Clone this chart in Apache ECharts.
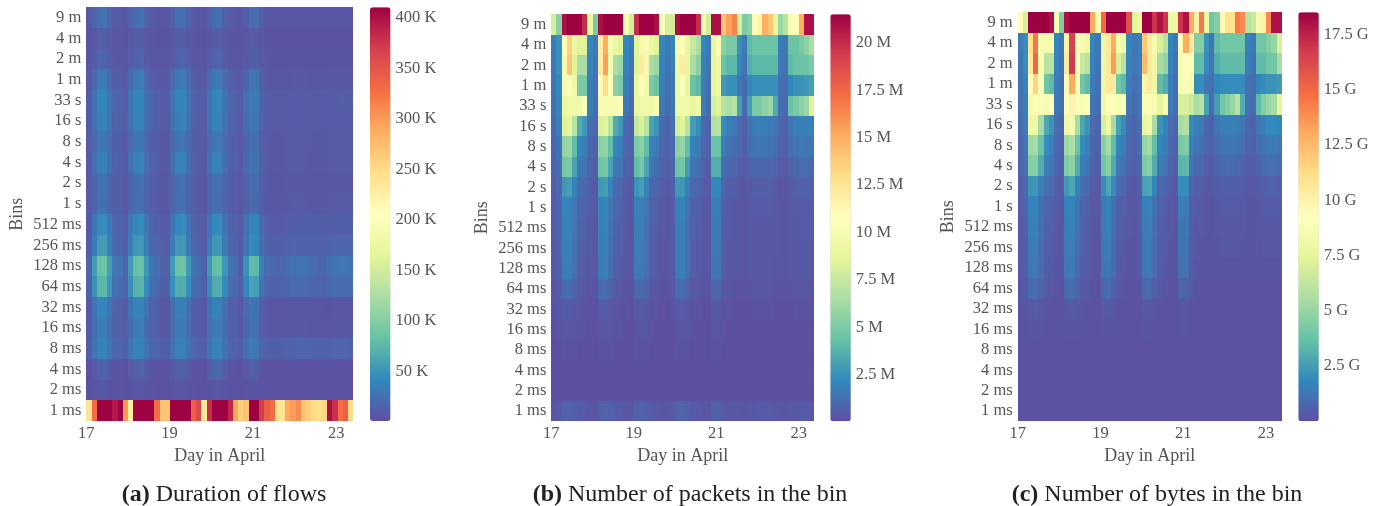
<!DOCTYPE html>
<html><head><meta charset="utf-8">
<style>html,body{margin:0;padding:0;background:#fff}#c{width:1380px;height:506px;filter:blur(0.6px)}</style>
<script src="https://cdn.jsdelivr.net/npm/echarts@6/dist/echarts.min.js"></script>
</head><body><div id="c"></div>
<script>
const binLabels = ['9 m','4 m','2 m','1 m','33 s','16 s','8 s','4 s','2 s','1 s','512 ms','256 ms','128 ms','64 ms','32 ms','16 ms','8 ms','4 ms','2 ms','1 ms'];
const dayTicks = [17,19,21,23];
const durationTicks = [50,100,150,200,250,300,350,400];
const packetTicks = [2.5,5,7.5,10,12.5,15,17.5,20];
const byteTicks = [2.5,5,7.5,10,12.5,15,17.5];
const palette = ['#5e4fa2','#3288bd','#66c2a5','#abdda4','#e6f598','#ffffbf','#fee08b','#fdae61','#f46d43','#d53e4f','#9e0142'];

// Duration of flows, thousands; one row per bin, one value per eighth of a day
const durationRows = [
[7,16,25,27,17,9,9,7,15,24,26,15,9,8,6,7,14,24,25,15,9,8,6,14,25,26,15,9,8,6,13,22,23,12,7,7,6,6,6,6,6,6,6,6,6,6,6,6,7,7,7],
[5,8,11,12,8,6,6,5,8,11,11,8,6,5,5,5,8,11,11,8,6,5,5,8,10,11,8,6,5,4,7,9,9,6,5,4,4,4,4,4,4,4,4,4,4,4,4,4,4,4,4],
[6,11,16,17,11,8,7,6,11,15,16,10,7,7,6,6,10,15,16,11,7,7,6,10,15,16,10,7,6,6,9,13,13,8,6,5,5,5,5,5,5,5,5,5,5,5,5,5,5,5,5],
[8,20,31,32,21,12,11,8,20,31,32,20,11,10,8,8,20,31,32,21,11,10,8,20,31,32,21,11,10,8,18,27,27,14,8,7,7,7,7,8,8,8,7,7,7,7,8,8,8,8,8],
[10,27,39,41,28,17,15,10,27,40,41,26,16,14,10,10,27,40,41,27,15,14,10,27,41,42,28,16,14,10,24,33,32,18,10,9,9,9,10,10,10,10,9,9,9,9,10,10,11,11,11],
[10,26,36,38,26,16,14,9,26,37,38,25,15,13,9,9,26,36,38,26,14,13,9,26,38,39,27,15,13,9,22,30,29,16,10,9,9,9,9,10,10,10,9,9,9,9,10,10,10,10,10],
[9,20,29,30,21,13,12,8,20,29,30,20,12,11,8,8,20,28,29,20,12,11,8,20,29,31,21,12,11,8,18,25,24,13,9,8,8,8,9,9,9,9,9,8,8,8,9,9,9,9,9],
[9,24,36,38,25,15,13,9,25,36,37,24,14,12,8,8,24,37,38,25,14,12,8,25,37,38,25,14,12,8,20,28,27,14,9,8,8,8,9,9,9,9,8,8,8,8,9,9,9,9,9],
[8,17,25,26,18,12,11,7,17,25,26,17,11,10,7,7,17,25,26,17,11,10,7,17,25,26,17,11,10,7,15,21,21,12,8,7,7,7,8,8,8,8,8,7,7,7,8,8,8,8,8],
[8,16,24,25,17,12,11,7,16,24,25,16,11,10,7,7,16,24,25,16,11,10,7,16,24,25,16,11,10,7,14,20,20,12,8,8,8,8,8,9,9,9,8,8,8,8,9,9,9,9,9],
[10,30,44,46,31,17,15,10,30,43,45,29,16,14,10,9,28,42,44,28,15,14,9,28,42,44,28,15,14,9,26,40,40,20,12,10,10,10,11,12,12,12,12,12,12,11,12,12,13,13,13],
[11,34,54,56,36,19,17,11,34,52,54,34,18,16,11,10,33,52,54,33,17,15,10,33,52,54,33,17,15,10,30,44,42,22,14,12,13,13,14,15,15,15,15,14,14,14,15,16,17,17,16],
[16,56,84,86,58,30,27,15,54,82,84,52,28,25,14,14,54,86,88,54,27,24,14,54,80,82,52,27,24,13,50,78,76,36,22,19,18,19,22,26,27,27,26,21,18,19,26,28,29,29,27],
[15,50,74,76,51,26,23,14,48,72,74,46,25,22,13,13,46,68,70,46,23,21,12,44,66,68,44,23,20,12,42,60,58,30,17,15,15,16,18,21,21,21,20,17,16,16,20,22,22,22,21],
[8,28,40,41,28,15,14,8,28,40,41,28,14,13,7,7,24,36,36,24,13,12,7,26,38,38,25,13,11,7,20,28,26,13,8,7,6,6,7,7,7,7,7,6,6,5,5,6,6,6,6],
[9,24,34,34,24,14,14,9,22,33,34,22,14,13,8,8,22,32,33,22,13,12,8,22,32,33,22,13,12,7,18,26,24,13,8,7,7,7,7,7,8,8,7,7,7,6,6,6,7,7,7],
[13,28,38,39,28,18,17,13,27,38,38,27,17,16,12,12,26,37,38,26,16,15,12,26,37,38,26,16,15,12,24,32,30,18,14,13,13,14,15,15,16,16,16,15,15,15,15,16,16,16,15],
[3,9,15,16,10,5,5,3,9,14,15,9,5,4,3,3,8,14,14,9,4,4,3,11,18,19,11,5,4,3,8,13,12,5,3,3,3,3,3,3,3,3,3,3,3,3,3,3,3,3,3],
[3,5,7,7,5,4,4,3,5,7,7,5,4,3,3,3,5,6,7,5,4,3,3,5,7,7,5,3,3,3,4,5,5,4,3,3,3,3,3,3,3,3,3,3,3,3,3,3,3,3,3],
[240,330,410,410,410,395,410,300,230,410,410,410,410,330,270,270,410,410,410,410,340,360,235,380,410,410,410,385,290,260,270,410,410,370,340,330,245,240,290,300,310,270,260,250,245,255,400,380,330,340,250]
];

// Number of packets in the bin, millions
const packetRows = [
[8,5.5,21,21.5,21.5,21.5,20,9,5,21,21.5,21.5,21.5,21.5,10,8,20,21.5,21.5,21.5,21,11,8,8,21,21.5,21.5,21.5,20,10,8,21,21,14,15.5,16.5,8,5,5.5,10.5,11.5,15,14,9,6,7,10,11,15,21,21],
[1.7,2.5,10.5,13.5,9,8.5,8.5,2.2,1.6,12,15,10,9,8.5,2.2,1.6,8.5,11.5,10,9,8.5,2.2,1.6,2,10,11,9,7.5,6.5,2.2,1.6,9,10.5,5.5,5,5,2.5,1.6,4,4.5,4.5,4.5,4.5,4.5,1.8,1.6,4.5,4.5,5,5.5,6.5],
[1.6,2.5,10,14,8.5,6.5,6.5,2,1.4,12,15.5,10,6.5,6,2,1.4,8.5,12,10,6.5,6,2,1.4,1.8,9.5,12,9,6.5,5.5,2,1.4,9,9.5,4.5,4,4,2.2,1.4,3.5,4,4,4,4,4,1.6,1.4,4,4.5,4.5,4.5,5],
[1.4,2.2,10,11,9.5,5,5,1.8,1.2,10.5,13,10.5,5.5,5,1.8,1.2,9,10.5,9.5,5,4.5,1.8,1.2,1.6,9.5,10.5,9,4.5,4,1.8,1.2,9,9.5,2.8,2.5,2.5,1.6,1.1,2.2,2.5,2.5,2.5,2.5,2.5,1.3,1.1,2.2,2.5,2.5,2.8,3],
[1.3,2,9,9.5,9.5,9.5,10.5,1.8,1.1,10,10,10,10,10.5,1.6,1.1,9,9.5,9.5,9.5,10,1.6,1.1,1.5,9.5,9.5,9.5,9,9.5,1.8,1.1,8,8.5,7,6.5,7,3,1.1,3,5,5,5.5,6,3.5,1.3,1.1,4.5,5,5.5,6,8.5],
[1.1,1.8,8.5,8.8,7,3.5,2.8,1.2,0.9,8.2,8.5,7,3.5,2.8,1.1,0.8,7.5,8.2,7,3.2,2.6,1.1,0.8,1.2,8,8.5,7,3,2.4,1.1,0.8,6.8,7,2.4,1.8,1.6,1,0.7,1.4,1.7,1.8,1.8,1.7,1.5,0.9,0.7,1.5,1.8,1.9,1.9,1.9],
[0.9,1.4,5.8,6,4.2,2.2,1.8,1,0.7,5.5,5.8,4.2,2.2,1.8,0.9,0.7,5,5.5,4.2,2,1.7,0.9,0.7,1,5.5,5.8,4.2,2,1.7,0.9,0.7,4.5,4.5,1.8,1.4,1.3,0.9,0.6,1.2,1.4,1.5,1.5,1.4,1.2,0.7,0.6,1.2,1.4,1.6,1.5,1.5],
[0.8,1.2,4.8,5,3.2,1.6,1.4,0.8,0.6,4.6,4.8,3.2,1.6,1.4,0.8,0.6,4.2,4.8,3.2,1.5,1.3,0.8,0.6,0.8,4.6,4.8,3,1.5,1.3,0.8,0.6,3.6,3.6,1.3,1,0.9,0.6,0.5,0.8,0.9,1,1,0.9,0.8,0.5,0.4,0.8,1,1.2,1.2,1.1],
[0.6,0.9,2.8,3,2,1.1,1,0.6,0.4,2.8,3,2,1.1,0.9,0.5,0.4,2.6,3,2,1,0.9,0.5,0.4,0.6,2.8,2.8,1.9,1,0.9,0.5,0.4,2.2,2.2,0.9,0.6,0.6,0.4,0.3,0.5,0.6,0.6,0.6,0.6,0.5,0.3,0.3,0.5,0.6,0.7,0.7,0.7],
[0.5,0.8,2,2.1,1.5,0.9,0.8,0.5,0.3,2,2.1,1.5,0.9,0.8,0.4,0.3,1.9,2,1.4,0.8,0.7,0.4,0.3,0.5,1.9,2,1.4,0.8,0.7,0.4,0.3,1.8,1.8,0.7,0.5,0.4,0.3,0.3,0.4,0.5,0.5,0.5,0.5,0.4,0.3,0.3,0.4,0.5,0.5,0.5,0.5],
[0.5,0.8,1.9,2,1.4,0.8,0.7,0.4,0.3,1.9,2,1.4,0.8,0.7,0.4,0.3,1.8,1.9,1.3,0.7,0.6,0.4,0.3,0.5,1.8,1.9,1.3,0.7,0.6,0.4,0.3,1.7,1.7,0.6,0.5,0.4,0.3,0.3,0.4,0.4,0.4,0.4,0.4,0.4,0.3,0.3,0.4,0.4,0.5,0.5,0.5],
[0.4,0.7,1.8,1.9,1.3,0.7,0.6,0.4,0.3,1.8,1.9,1.3,0.7,0.6,0.3,0.3,1.7,1.8,1.2,0.6,0.5,0.3,0.3,0.4,1.7,1.8,1.2,0.6,0.5,0.3,0.3,1.6,1.6,0.6,0.4,0.4,0.3,0.3,0.4,0.4,0.4,0.4,0.4,0.4,0.3,0.3,0.4,0.4,0.4,0.4,0.4],
[0.4,0.7,1.7,1.8,1.2,0.6,0.5,0.3,0.3,1.7,1.8,1.2,0.6,0.5,0.3,0.3,1.6,1.7,1.2,0.6,0.5,0.3,0.3,0.4,1.7,1.8,1.2,0.6,0.5,0.3,0.3,1.5,1.5,0.5,0.4,0.4,0.3,0.3,0.4,0.4,0.4,0.4,0.4,0.3,0.3,0.3,0.4,0.4,0.4,0.4,0.4],
[0.3,0.5,1.1,1.2,0.8,0.4,0.4,0.2,0.2,1.1,1.2,0.8,0.4,0.4,0.2,0.2,1,1.1,0.8,0.4,0.3,0.2,0.2,0.3,1.1,1.2,0.8,0.4,0.3,0.2,0.2,0.9,0.9,0.4,0.3,0.2,0.2,0.2,0.2,0.3,0.3,0.3,0.3,0.2,0.2,0.2,0.2,0.3,0.3,0.3,0.3],
[0.2,0.3,0.5,0.5,0.4,0.3,0.2,0.2,0.1,0.5,0.5,0.4,0.3,0.2,0.2,0.1,0.4,0.5,0.4,0.2,0.2,0.1,0.1,0.2,0.5,0.5,0.4,0.2,0.2,0.1,0.1,0.4,0.4,0.2,0.2,0.1,0.1,0.1,0.1,0.2,0.2,0.2,0.2,0.1,0.1,0.1,0.1,0.2,0.2,0.2,0.2],
[0.1,0.2,0.3,0.3,0.3,0.2,0.2,0.1,0.1,0.3,0.3,0.3,0.2,0.2,0.1,0.1,0.3,0.3,0.3,0.2,0.1,0.1,0.1,0.1,0.3,0.3,0.3,0.2,0.1,0.1,0.1,0.3,0.3,0.2,0.1,0.1,0.1,0.1,0.1,0.1,0.1,0.1,0.1,0.1,0.1,0.1,0.1,0.1,0.1,0.1,0.1],
[0.1,0.1,0.2,0.2,0.2,0.1,0.1,0.1,0.1,0.2,0.2,0.2,0.1,0.1,0.1,0.1,0.2,0.2,0.2,0.1,0.1,0.1,0.1,0.1,0.2,0.2,0.2,0.1,0.1,0.1,0.1,0.2,0.2,0.1,0.1,0.1,0.1,0.1,0.1,0.1,0.1,0.1,0.1,0.1,0.1,0.1,0.1,0.1,0.1,0.1,0.1],
[0.1,0.1,0.1,0.1,0.1,0.1,0.1,0.1,0.1,0.1,0.1,0.1,0.1,0.1,0.1,0.1,0.1,0.1,0.1,0.1,0.1,0.1,0.1,0.1,0.1,0.1,0.1,0.1,0.1,0.1,0.1,0.1,0.1,0.1,0.1,0.1,0.1,0.1,0.1,0.1,0.1,0.1,0.1,0.1,0.1,0.1,0.1,0.1,0.1,0.1,0.1],
[0.1,0.1,0.1,0.1,0.1,0.1,0.1,0.1,0.1,0.1,0.1,0.1,0.1,0.1,0.1,0.1,0.1,0.1,0.1,0.1,0.1,0.1,0.1,0.1,0.1,0.1,0.1,0.1,0.1,0.1,0.1,0.1,0.1,0.1,0.1,0.1,0.1,0.1,0.1,0.1,0.1,0.1,0.1,0.1,0.1,0.1,0.1,0.1,0.1,0.1,0.1],
[0.3,0.4,0.7,0.8,0.7,0.5,0.5,0.3,0.3,0.7,0.8,0.7,0.5,0.5,0.3,0.3,0.7,0.8,0.7,0.5,0.4,0.3,0.3,0.4,0.8,0.8,0.7,0.5,0.5,0.3,0.3,0.7,0.7,0.5,0.4,0.4,0.4,0.3,0.4,0.4,0.5,0.5,0.5,0.4,0.3,0.3,0.4,0.4,0.5,0.5,0.4]
];

// Number of bytes in the bin, billions
const byteRows = [
[9,7,18.5,18.5,18.5,18.5,18,9,4.5,18,18.5,18.5,18.5,18.5,13,8.5,15,18.5,18.5,18.5,18.5,16,7.5,8,18.5,18.5,17,18,17,8,8,17,18,13,10,14.5,8,4,4.5,9.5,11,11,14.5,14,6,6.5,8.5,10,14,18,18],
[1.4,2,11,14.5,8.5,8.5,8.5,1.8,1.3,10,16.5,9,8.5,8,1.8,1.3,8,10.5,13,8.5,8,1.8,1.3,1.6,12,10.5,8.5,7,6,1.8,1.3,9,13,10.5,4.5,4.5,2.2,1.3,3.5,4,4,4,4,4,1.6,1.3,4,4,4.5,5,7],
[1.3,2,10.5,15,8.5,6,6,1.7,1.2,10.5,16.8,9,6.5,6,1.7,1.2,8,10.5,13.5,7,6,1.7,1.2,1.5,12.5,10.5,8,5.5,5,1.7,1.2,8.5,9,9,3.5,3.5,2,1.2,3,3.5,3.5,3.5,3.5,3.5,1.5,1.2,3.5,3.5,4,4,5.5],
[1.2,1.8,9.5,11.5,9,4,3.5,1.5,1.1,9.5,13,9,4,3.5,1.5,1,8,10.5,10.5,4,3.5,1.5,1,1.3,10,10.5,8,3.5,3,1.5,1,8.5,9,8.5,2,2,1.3,1,1.8,2,2,2,2,2,1.1,1,1.8,2,2.2,2.2,2.4],
[1.1,1.6,8.5,8.8,8.8,8.5,9,1.4,1,9,10,9,8.5,9,1.3,0.9,8,9,9,8.5,8.8,1.3,0.9,1.2,8.8,9,8.5,7.5,8.5,1.4,0.9,7,7,6.5,5.5,6,2.6,0.9,2.5,4,4.5,5,6,3,1.1,0.9,3.5,4.5,5,5.5,7.5],
[1,1.4,8,8.2,5.5,2.8,2.2,1,0.7,8,8.4,5.5,2.8,2.2,0.9,0.7,7,8,5.5,2.6,2,0.9,0.7,1,7.8,8.2,5.5,2.2,1.8,0.9,0.7,5.5,5.8,2,1.6,1.4,0.8,0.6,1.2,1.6,1.6,1.6,1.5,1.3,0.7,0.6,1.2,1.6,1.9,1.9,1.8],
[0.8,1.2,5.2,5.4,3.8,2,1.6,0.8,0.6,5.2,5.6,3.8,2,1.6,0.8,0.6,4.6,5.4,3.6,1.8,1.5,0.8,0.6,0.9,5,5.4,3.6,1.8,1.5,0.8,0.6,4.2,4.4,1.6,1.2,1.1,0.7,0.5,1,1.2,1.3,1.3,1.2,1,0.6,0.5,1,1.2,1.4,1.4,1.3],
[0.7,1,4.5,4.6,3,1.5,1.3,0.7,0.5,4.4,4.8,3,1.5,1.3,0.7,0.5,4,4.6,3,1.4,1.2,0.7,0.5,0.7,4.3,4.6,3,1.4,1.2,0.7,0.5,3.3,3.4,1.2,0.9,0.8,0.5,0.4,0.7,0.8,0.9,0.9,0.8,0.7,0.4,0.4,0.7,0.9,1,1,0.9],
[0.5,0.8,2.2,2.3,1.6,1,0.9,0.5,0.3,2.4,2.8,1.8,1,0.8,0.4,0.3,2,2.8,2,0.9,0.7,0.4,0.3,0.5,2.6,2.8,1.8,0.8,0.7,0.4,0.3,2,2,0.7,0.5,0.5,0.3,0.3,0.4,0.5,0.5,0.5,0.5,0.4,0.3,0.3,0.4,0.5,0.6,0.6,0.5],
[0.4,0.7,1.7,1.8,1.2,0.7,0.6,0.4,0.3,1.7,1.8,1.2,0.7,0.6,0.3,0.3,1.5,1.7,1.1,0.6,0.5,0.3,0.3,0.4,1.6,1.7,1.1,0.6,0.5,0.3,0.2,1.5,1.5,0.5,0.4,0.3,0.2,0.2,0.3,0.4,0.4,0.4,0.4,0.3,0.2,0.2,0.3,0.4,0.4,0.4,0.4],
[0.3,0.6,1.5,1.6,1.1,0.6,0.5,0.3,0.2,1.6,1.7,1.1,0.6,0.5,0.3,0.2,1.4,1.6,1,0.5,0.4,0.3,0.2,0.4,1.4,1.5,1,0.5,0.4,0.3,0.2,1.3,1.3,0.5,0.3,0.3,0.2,0.2,0.3,0.3,0.3,0.3,0.3,0.3,0.2,0.2,0.3,0.3,0.3,0.3,0.3],
[0.3,0.5,1.4,1.5,1,0.5,0.4,0.3,0.2,1.4,1.5,1,0.5,0.4,0.2,0.2,1.3,1.4,0.9,0.4,0.4,0.2,0.2,0.3,1.3,1.4,0.9,0.4,0.4,0.2,0.2,1.2,1.2,0.4,0.3,0.2,0.2,0.2,0.2,0.3,0.3,0.3,0.3,0.2,0.2,0.2,0.2,0.3,0.3,0.3,0.3],
[0.3,0.5,1.3,1.4,0.9,0.4,0.4,0.2,0.2,1.3,1.4,0.9,0.4,0.4,0.2,0.2,1.2,1.3,0.9,0.4,0.3,0.2,0.2,0.3,1.3,1.4,0.9,0.4,0.3,0.2,0.2,1.1,1.1,0.4,0.2,0.2,0.2,0.2,0.2,0.2,0.2,0.2,0.2,0.2,0.2,0.2,0.2,0.2,0.2,0.2,0.2],
[0.2,0.4,0.9,1,0.7,0.3,0.3,0.2,0.1,0.9,1,0.7,0.3,0.3,0.2,0.1,0.8,0.9,0.6,0.3,0.2,0.1,0.1,0.2,0.8,0.9,0.6,0.3,0.2,0.1,0.1,0.7,0.7,0.3,0.2,0.1,0.1,0.1,0.1,0.1,0.1,0.1,0.1,0.1,0.1,0.1,0.1,0.1,0.1,0.1,0.1],
[0.1,0.2,0.3,0.4,0.3,0.2,0.1,0.1,0.1,0.3,0.4,0.3,0.2,0.1,0.1,0.1,0.3,0.3,0.3,0.1,0.1,0.1,0.1,0.1,0.3,0.3,0.2,0.1,0.1,0.1,0.1,0.2,0.2,0.1,0.1,0.1,0.1,0.1,0.1,0.1,0.1,0.1,0.1,0.1,0.1,0.1,0.1,0.1,0.1,0.1,0.1],
[0.1,0.1,0.2,0.2,0.2,0.1,0.1,0.1,0.1,0.2,0.2,0.2,0.1,0.1,0.1,0.1,0.2,0.2,0.1,0.1,0.1,0.1,0.1,0.1,0.2,0.2,0.1,0.1,0.1,0.1,0.1,0.2,0.2,0.1,0.1,0.1,0.1,0.1,0.1,0.1,0.1,0.1,0.1,0.1,0.1,0.1,0.1,0.1,0.1,0.1,0.1],
[0.1,0.1,0.1,0.1,0.1,0.1,0.1,0.1,0.1,0.1,0.1,0.1,0.1,0.1,0.1,0.1,0.1,0.1,0.1,0.1,0.1,0.1,0.1,0.1,0.1,0.1,0.1,0.1,0.1,0.1,0.1,0.1,0.1,0.1,0.1,0.1,0.1,0.1,0.1,0.1,0.1,0.1,0.1,0.1,0.1,0.1,0.1,0.1,0.1,0.1,0.1],
[0.1,0.1,0.1,0.1,0.1,0.1,0.1,0.1,0.1,0.1,0.1,0.1,0.1,0.1,0.1,0.1,0.1,0.1,0.1,0.1,0.1,0.1,0.1,0.1,0.1,0.1,0.1,0.1,0.1,0.1,0.1,0.1,0.1,0.1,0.1,0.1,0.1,0.1,0.1,0.1,0.1,0.1,0.1,0.1,0.1,0.1,0.1,0.1,0.1,0.1,0.1],
[0.1,0.1,0.1,0.1,0.1,0.1,0.1,0.1,0.1,0.1,0.1,0.1,0.1,0.1,0.1,0.1,0.1,0.1,0.1,0.1,0.1,0.1,0.1,0.1,0.1,0.1,0.1,0.1,0.1,0.1,0.1,0.1,0.1,0.1,0.1,0.1,0.1,0.1,0.1,0.1,0.1,0.1,0.1,0.1,0.1,0.1,0.1,0.1,0.1,0.1,0.1],
[0.1,0.1,0.1,0.1,0.1,0.1,0.1,0.1,0.1,0.1,0.1,0.1,0.1,0.1,0.1,0.1,0.1,0.1,0.1,0.1,0.1,0.1,0.1,0.1,0.1,0.1,0.1,0.1,0.1,0.1,0.1,0.1,0.1,0.1,0.1,0.1,0.1,0.1,0.1,0.1,0.1,0.1,0.1,0.1,0.1,0.1,0.1,0.1,0.1,0.1,0.1]
];

const panels = [
  {rows:durationRows, ticks:durationTicks, unit:'K', min:1.2, max:410.6, dayMax:23.41,
   left:86.3, top:7.3, width:267, height:413.7, barLeft:370, letter:'(a)', caption:'Duration of flows', capX:224},
  {rows:packetRows, ticks:packetTicks, unit:'M', min:0.05, max:21.5, dayMax:23.37,
   left:551.3, top:14.3, width:262.7, height:407, barLeft:830.3, letter:'(b)', caption:'Number of packets in the bin', capX:690},
  {rows:byteRows, ticks:byteTicks, unit:'G', min:0, max:18.5, dayMax:23.38,
   left:1017.7, top:12.3, width:264, height:409, barLeft:1298.3, letter:'(c)', caption:'Number of bytes in the bin', capX:1157}
];

const serif = '"Liberation Serif","DejaVu Serif",serif';
const ink = '#555';
const barWidth = 20.5;
const option = {animation:false, backgroundColor:'#fff', grid:[], xAxis:[], yAxis:[], series:[], visualMap:[], title:[]};

// One rectangle per cell, placed by the axes and snapped to whole pixels so that neighbours never leave a seam.
function drawCell(params, api){
  const centre = api.coord([api.value(0), api.value(1)]);
  const band = api.size([1,1]);
  const x0 = Math.round(centre[0]-band[0]/2), x1 = Math.round(centre[0]+band[0]/2);
  const y0 = Math.round(centre[1]-band[1]/2), y1 = Math.round(centre[1]+band[1]/2);
  return {type:'rect', shape:{x:x0, y:y0, width:x1-x0, height:y1-y0}, style:{fill:api.visual('color')}, silent:true};
}

panels.forEach((p,i)=>{
  const g = i*2, gb = g+1;
  const columns = p.rows[0].map((_,k)=>String(k));
  option.grid.push({left:p.left, top:p.top, width:p.width, height:p.height, containLabel:false});
  option.grid.push({left:p.barLeft+barWidth, top:p.top, width:1, height:p.height, containLabel:false});
  const xc = option.xAxis.length;
  option.xAxis.push({type:'category', gridIndex:g, data:columns, show:false});
  option.xAxis.push({type:'value', gridIndex:g, min:17, max:p.dayMax, position:'bottom', splitLine:{show:false},
    axisLine:{show:false}, axisTick:{show:false},
    axisLabel:{customValues:dayTicks, formatter:v=>String(v), color:ink, fontFamily:serif, fontSize:16.5, margin:4},
    name:'Day in April', nameLocation:'middle', nameGap:23, nameTextStyle:{color:ink, fontFamily:serif, fontSize:18}});
  option.xAxis.push({type:'value', gridIndex:gb, min:0, max:1, show:false});
  const yc = option.yAxis.length;
  option.yAxis.push({type:'category', gridIndex:g, data:binLabels, inverse:true, axisLine:{show:false}, axisTick:{show:false}, splitLine:{show:false},
    axisLabel:{interval:0, color:ink, fontFamily:serif, fontSize:16.5, margin:5},
    name:'Bins', nameLocation:'middle', nameGap:60, nameTextStyle:{color:ink, fontFamily:serif, fontSize:18}});
  option.yAxis.push({type:'value', gridIndex:gb, min:p.min, max:p.max, position:'right', splitLine:{show:false},
    axisLine:{show:false}, axisTick:{show:false},
    axisLabel:{customValues:p.ticks, formatter:v=>v+' '+p.unit, color:ink, fontFamily:serif, fontSize:16.5, margin:4}});
  const cells = [];
  p.rows.forEach((row,r)=>row.forEach((v,c)=>cells.push([c,r,v])));
  option.series.push({type:'custom', name:p.caption, xAxisIndex:xc, yAxisIndex:yc, data:cells, renderItem:drawCell, encode:{x:0,y:1}, silent:true, progressive:0});
  option.visualMap.push({type:'continuous', seriesIndex:i, dimension:2, min:p.min, max:p.max, calculable:false, realtime:false,
    left:p.barLeft, top:p.top, padding:0, itemWidth:barWidth, itemHeight:p.height, text:null, showLabel:false, inRange:{color:palette}, hoverLink:false, borderWidth:0, borderRadius:0});
  option.title.push({text:'{b|'+p.letter+'} '+p.caption, left:p.capX, top:483, textAlign:'center', padding:0,
    textStyle:{fontFamily:serif, fontSize:24, fontWeight:'normal', color:'#222', rich:{b:{fontFamily:serif, fontSize:24, fontWeight:'bold', color:'#222'}}}});
});

const chart = echarts.init(document.getElementById('c'), null, {renderer:'canvas', width:1380, height:506});
chart.setOption(option);
</script></body></html>
